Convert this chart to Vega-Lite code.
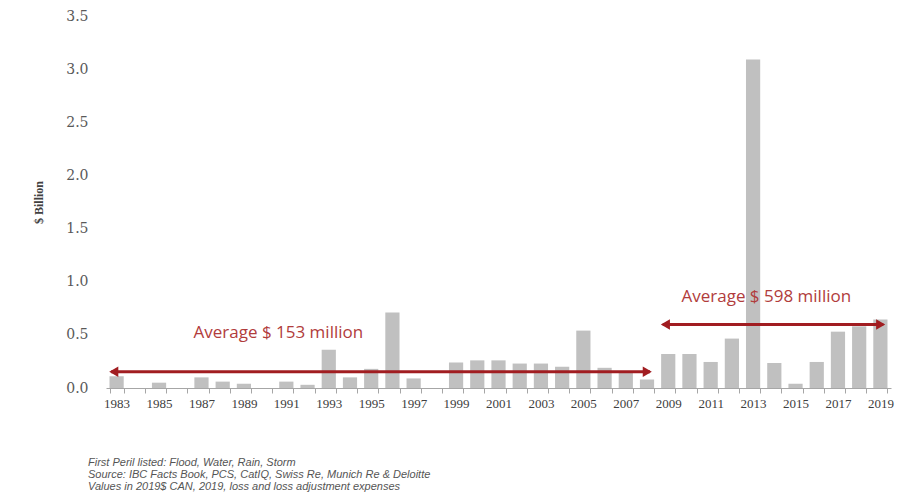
{
  "$schema": "https://vega.github.io/schema/vega-lite/v6.json",
  "width": 785,
  "height": 372,
  "autosize": "none",
  "padding": {"left": 106, "top": 16, "right": 10, "bottom": 114},
  "background": "white",
  "config": {"view": {"stroke": null}},
  "title": {
    "text": ["First Peril listed: Flood, Water,  Rain, Storm", "Source: IBC  Facts Book, PCS,  CatIQ, Swiss Re, Munich Re & Deloitte", "Values in 2019$ CAN, 2019, loss and loss adjustment expenses"],
    "orient": "bottom",
    "anchor": "start",
    "frame": "group",
    "dx": -18,
    "offset": 47,
    "font": "Liberation Sans",
    "fontStyle": "italic",
    "fontWeight": "normal",
    "fontSize": 11,
    "lineHeight": 12,
    "color": "#555555"
  },
  "datasets": {
    "losses": [
      {"year": 1983, "value": 0.11},
      {"year": 1984, "value": 0.0},
      {"year": 1985, "value": 0.05},
      {"year": 1986, "value": 0.0},
      {"year": 1987, "value": 0.10},
      {"year": 1988, "value": 0.06},
      {"year": 1989, "value": 0.04},
      {"year": 1990, "value": 0.0},
      {"year": 1991, "value": 0.06},
      {"year": 1992, "value": 0.03},
      {"year": 1993, "value": 0.36},
      {"year": 1994, "value": 0.10},
      {"year": 1995, "value": 0.18},
      {"year": 1996, "value": 0.71},
      {"year": 1997, "value": 0.09},
      {"year": 1998, "value": 0.0},
      {"year": 1999, "value": 0.24},
      {"year": 2000, "value": 0.26},
      {"year": 2001, "value": 0.26},
      {"year": 2002, "value": 0.23},
      {"year": 2003, "value": 0.23},
      {"year": 2004, "value": 0.20},
      {"year": 2005, "value": 0.54},
      {"year": 2006, "value": 0.19},
      {"year": 2007, "value": 0.16},
      {"year": 2008, "value": 0.08},
      {"year": 2009, "value": 0.32},
      {"year": 2010, "value": 0.32},
      {"year": 2011, "value": 0.245},
      {"year": 2012, "value": 0.465},
      {"year": 2013, "value": 3.09},
      {"year": 2014, "value": 0.235},
      {"year": 2015, "value": 0.04},
      {"year": 2016, "value": 0.245},
      {"year": 2017, "value": 0.53},
      {"year": 2018, "value": 0.58},
      {"year": 2019, "value": 0.645}
    ],
    "averages": [
      {"start": 1983, "end": 2008, "avg": 0.153, "labelYear": 1991, "labelY": 0.52, "label": "Average  $ 153 million"},
      {"start": 2009, "end": 2019, "avg": 0.598, "labelYear": 2014, "labelY": 0.86, "label": "Average  $ 598 million"}
    ]
  },
  "layer": [
    {
      "data": {"name": "losses"},
      "mark": {"type": "bar", "color": "#c0c0c0"},
      "encoding": {
        "x": {
          "field": "year",
          "type": "ordinal",
          "scale": {"paddingInner": 0.33, "paddingOuter": 0.165},
          "axis": {
            "title": null,
            "labelAngle": 0,
            "labelExpr": "datum.value % 2 == 1 ? datum.label : ''",
            "labelOverlap": false,
            "labelFont": "Liberation Serif",
            "labelFontSize": 13,
            "labelColor": "#404040",
            "labelPadding": 4,
            "tickBand": "extent",
            "tickSize": 5,
            "tickColor": "#a6a6a6",
            "domainColor": "#a6a6a6",
            "grid": false
          }
        },
        "y": {
          "field": "value",
          "type": "quantitative",
          "scale": {"domain": [0, 3.5]},
          "axis": {
            "title": "$ Billion",
            "titleFont": "Liberation Serif",
            "titleFontSize": 12,
            "titleFontWeight": "bold",
            "titleColor": "#404040",
            "titlePadding": 20,
            "values": [0, 0.5, 1, 1.5, 2, 2.5, 3, 3.5],
            "format": ".1f",
            "labelFont": "DejaVu Serif",
            "labelFontSize": 14,
            "labelColor": "#595959",
            "labelPadding": 18,
            "ticks": false,
            "domain": false,
            "grid": false
          }
        }
      }
    },
    {
      "data": {"name": "averages"},
      "mark": {"type": "rule", "color": "#a11d21", "strokeWidth": 3},
      "encoding": {
        "x": {"field": "start", "type": "ordinal", "bandPosition": 0.12},
        "x2": {"field": "end", "bandPosition": 0.7},
        "y": {"field": "avg", "type": "quantitative"}
      }
    },
    {
      "data": {"name": "averages"},
      "mark": {"type": "point", "shape": "triangle-left", "filled": true, "color": "#a11d21", "size": 110, "opacity": 1},
      "encoding": {
        "x": {"field": "start", "type": "ordinal", "bandPosition": 0.3},
        "y": {"field": "avg", "type": "quantitative"}
      }
    },
    {
      "data": {"name": "averages"},
      "mark": {"type": "point", "shape": "triangle-right", "filled": true, "color": "#a11d21", "size": 110, "opacity": 1},
      "encoding": {
        "x": {"field": "end", "type": "ordinal", "bandPosition": 0.52},
        "y": {"field": "avg", "type": "quantitative"}
      }
    },
    {
      "data": {"name": "averages"},
      "mark": {"type": "text", "font": "Open Sans", "fontSize": 17, "color": "#b13c3c", "align": "center", "baseline": "middle", "dx": -8},
      "encoding": {
        "x": {"field": "labelYear", "type": "ordinal"},
        "y": {"field": "labelY", "type": "quantitative"},
        "text": {"field": "label"}
      }
    }
  ]
}
